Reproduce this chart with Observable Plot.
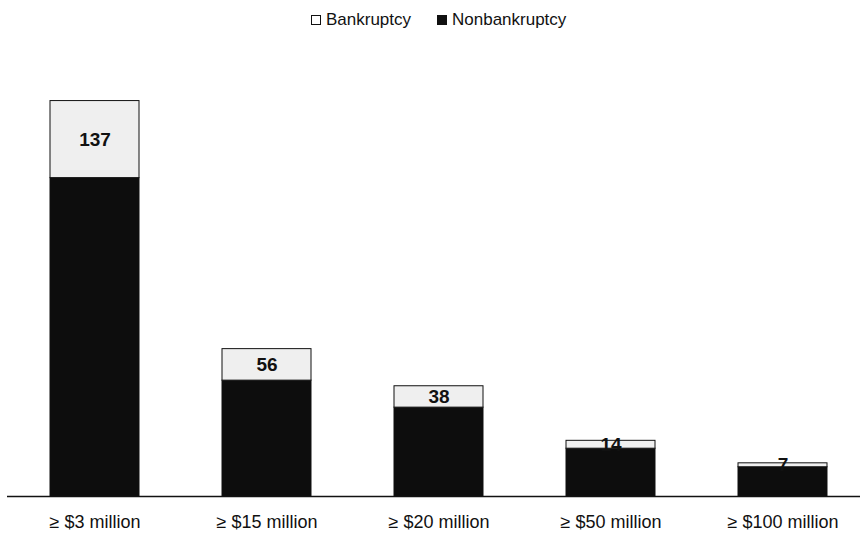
<!DOCTYPE html>
<html>
<head>
<meta charset="utf-8">
<script src="https://cdn.jsdelivr.net/npm/d3@7"></script>
<script src="https://cdn.jsdelivr.net/npm/@observablehq/plot@0.6"></script>
<style>
  body { margin: 0; background: #fff; }
  #legend { position: relative; height: 36px; width: 860px;
    font-family: "Liberation Sans Narrow", "Liberation Sans", Arial, sans-serif; font-size: 17px; color: #111; }
  .item { position: absolute; top: 10px; height: 20px; line-height: 20px; display: flex; align-items: center; white-space: nowrap; }
  .sw { width: 10px; height: 10px; margin-right: 5px; box-sizing: border-box; border: 1px solid #111; }
  #chart svg { display: block; font-family: "Liberation Sans Narrow", "Liberation Sans", Arial, sans-serif; }
</style>
</head>
<body>
<div id="legend">
  <div class="item" style="left:311px"><div class="sw" style="background:#fff"></div>Bankruptcy</div>
  <div class="item" style="left:437px"><div class="sw" style="background:#111"></div>Nonbankruptcy</div>
</div>
<div id="chart"></div>
<script>
const categories = ["≥ $3 million", "≥ $15 million", "≥ $20 million", "≥ $50 million", "≥ $100 million"];
const bankruptcy = [137, 56, 38, 14, 7];
const nonbankruptcy = [566, 206, 158, 85, 52];
const series = ["Nonbankruptcy", "Bankruptcy"];

const rows = [];
categories.forEach((c, i) => {
  rows.push({cat: c, type: "Nonbankruptcy", value: nonbankruptcy[i]});
  rows.push({cat: c, type: "Bankruptcy", value: bankruptcy[i]});
});
const labels = categories.map((c, i) => ({cat: c, mid: nonbankruptcy[i] + bankruptcy[i] / 2, text: String(bankruptcy[i])}));

const chart = Plot.plot({
  width: 860,
  height: 499,
  marginTop: 10,
  marginBottom: 39,
  marginLeft: 7,
  marginRight: 0,
  x: {domain: categories, range: [7, 869], paddingInner: 0.485, paddingOuter: 0.237, label: null, tickSize: 0, tickPadding: 19},
  y: {domain: [0, 800], axis: null},
  color: {domain: series, range: ["#0d0d0d", "#efefef"]},
  style: {fontSize: "18px", color: "#111"},
  marks: [
    Plot.barY(rows, {x: "cat", y: "value", fill: "type", order: series, stroke: "#111", strokeWidth: 1}),
    Plot.text(labels, {x: "cat", y: "mid", text: "text", fontSize: 19, fontWeight: "bold", fill: "#111"}),
    Plot.ruleY([0], {stroke: "#111", strokeWidth: 1.5})
  ]
});
document.getElementById("chart").appendChild(chart);
</script>
</body>
</html>
